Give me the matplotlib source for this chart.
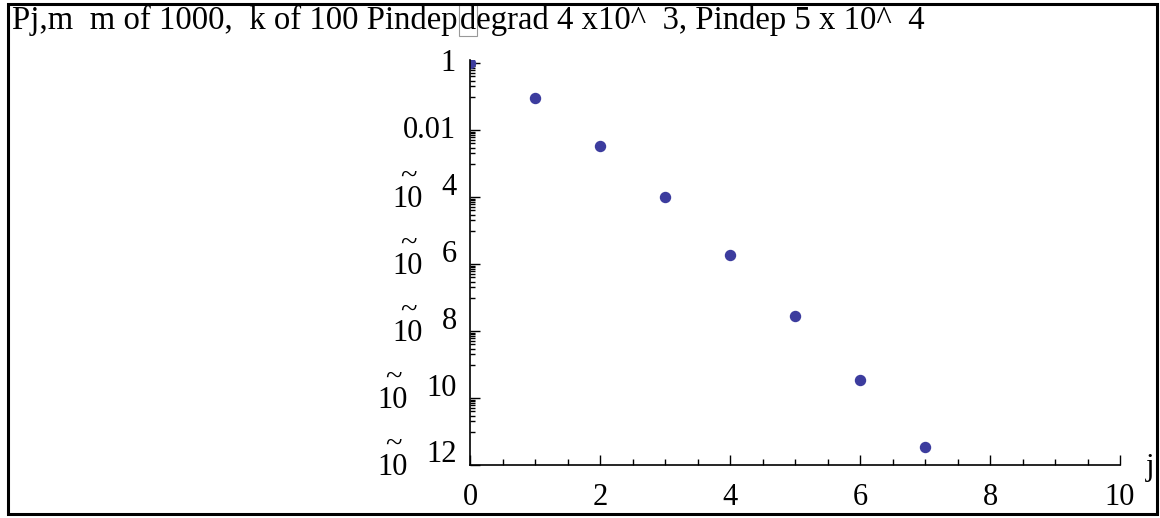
import numpy as np
import matplotlib
matplotlib.use('Agg')
import matplotlib.pyplot as plt
from matplotlib.patches import Rectangle

# P(j)
j_vals = [0, 1, 2, 3, 4, 5, 6, 7]
p_vals = [1.0, 9e-2, 3.3e-3, 1.0e-4, 1.9e-6, 2.8e-8, 3.5e-10, 3.5e-12]

title_left = "Pj,m  m of 1000,  k of 100 Pindep"
title_right = "degrad 4 x10^  3, Pindep 5 x 10^  4"
x_ticks = [0, 2, 4, 6, 8, 10]
y_ticks = [1, 1e-2, 1e-4, 1e-6, 1e-8, 1e-10, 1e-12]
y_exps = ["", "", "4", "6", "8", "10", "12"]
y_plain = ["1", "0.01", "", "", "", "", ""]

plt.rcParams['font.family'] = ['Liberation Serif', 'DejaVu Serif']
FS = 22
TFS = 23.6

fig = plt.figure(figsize=(11.6, 5.18), dpi=100)
ax = fig.add_axes([470 / 1160, 53 / 518, 650 / 1160, 405 / 518])

ax.plot(j_vals, p_vals, 'o', color='#3c3c9e', markersize=7.2, clip_on=True)
ax.set_yscale('log')
ax.set_xlim(0, 10)
ax.set_ylim(1e-12, 1.23)

for s in ['top', 'right']:
    ax.spines[s].set_visible(False)
for s in ['left', 'bottom']:
    ax.spines[s].set_linewidth(1.2)

ax.set_xticks(x_ticks)
ax.set_xticklabels([str(v) for v in x_ticks], fontsize=FS)
ax.set_xticks(np.arange(0, 10.01, 0.5), minor=True)
ax.tick_params(axis='x', which='major', direction='in', length=7, width=1, pad=13)
ax.tick_params(axis='x', which='minor', direction='in', length=4, width=1)

minor_y = []
for e in range(-1, -13, -2):
    for k in range(1, 10):
        minor_y.append(k * 10.0 ** e)
ax.set_yticks(y_ticks)
ax.set_yticklabels([])
ax.set_yticks(minor_y, minor=True)
ax.yaxis.set_minor_formatter(matplotlib.ticker.NullFormatter())
ax.tick_params(axis='y', which='major', direction='in', length=7, width=1)
ax.tick_params(axis='y', which='minor', direction='in', length=3.5, width=1)

# y labels drawn by hand, Mathematica style: "10" with a tilde over it, exponent raised
for v, ex, pl in zip(y_ticks, y_exps, y_plain):
    if pl:
        ax.annotate(pl, xy=(0, v), xycoords=('axes fraction', 'data'),
                    xytext=(-14, 0), textcoords='offset pixels',
                    ha='right', va='center', fontsize=FS)
        continue
    ew = 15 * len(ex)
    ax.annotate(ex, xy=(0, v), xycoords=('axes fraction', 'data'),
                xytext=(-13, 10), textcoords='offset pixels',
                ha='right', va='center', fontsize=FS)
    ax.annotate("~\n10", xy=(0, v), xycoords=('axes fraction', 'data'),
                xytext=(-13 - ew - 21 - 13, -10), textcoords='offset pixels',
                ha='center', va='baseline', multialignment='center',
                linespacing=0.75, fontsize=FS)

ax.annotate("j", xy=(1, 0), xycoords='axes fraction',
            xytext=(30, -3), textcoords='offset pixels',
            ha='center', va='center', fontsize=FS)

# title in two pieces, meeting at the little box around "d"
fig.text(458 / 1160, 1 - 29 / 518, title_left, fontsize=TFS, ha='right', va='baseline')
fig.text(460 / 1160, 1 - 29 / 518, title_right, fontsize=TFS, ha='left', va='baseline')

fig.patches.append(Rectangle((459 / 1160, 1 - 36 / 518), 18 / 1160, 31 / 518,
                             transform=fig.transFigure, fill=False,
                             edgecolor='#999999', linewidth=0.8))
fig.patches.append(Rectangle((8 / 1160, 4 / 518), 1149 / 1160, 510 / 518,
                             transform=fig.transFigure, fill=False,
                             edgecolor='black', linewidth=2.2))

fig.savefig('out.png', dpi=100)
